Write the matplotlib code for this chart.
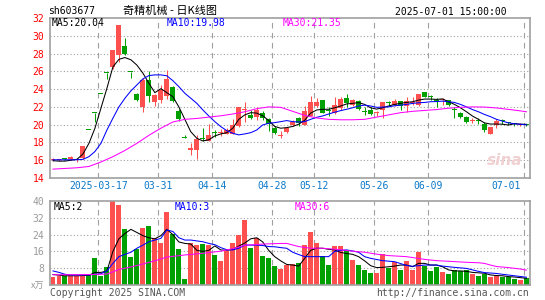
import matplotlib
matplotlib.use("Agg")
import matplotlib.pyplot as plt

plt.rcParams["font.family"] = ["DejaVu Sans Mono"]

W, H = 545, 300

TITLE_CODE = "sh603677"
TITLE_NAME = "奇精机械 - 日K线图"
TITLE_TIME = "2025-07-01 15:00:00"

# daily candles, 2025-03-05 .. 2025-07-01
OPEN = [16.05, 16.0, 16.2, 16.1, 16.0, 16.2, 19.36, 21.3, 23.43, 25.77,
        26.5, 27.8, 28.85, 25.9, 23.5, 22.0, 25.0, 22.6, 22.8, 23.2,
        24.2, 21.5, 18.6, 17.2, 17.1, 18.5, 18.2, 19.2, 19.1, 18.95,
        19.0, 19.8, 21.6, 21.1, 20.85, 21.3, 20.65, 19.6, 18.75, 19.2,
        20.0, 20.7, 20.0, 21.0, 22.15, 22.8, 21.6, 21.3, 21.85, 22.95,
        22.2, 22.7, 21.55, 21.65, 21.3, 21.65, 22.5, 22.2, 22.65, 22.1,
        22.45, 22.2, 23.65, 23.15, 22.72, 22.72, 22.75, 21.66, 21.35, 20.9,
        20.42, 20.47, 20.05, 19.0, 19.95, 20.5, 20.2, 20.15, 19.95, 20.05]
CLOSE = [16.15, 16.05, 16.15, 16.35, 16.1, 17.6, 19.36, 21.3, 23.43, 25.77,
         28.35, 31.19, 27.9, 25.9, 22.8, 25.0, 23.2, 23.35, 23.85, 25.1,
         22.7, 20.6, 18.54, 17.3, 18.35, 18.4, 18.85, 19.1, 19.2, 19.35,
         19.95, 21.95, 21.75, 20.7, 21.65, 20.8, 20.05, 19.1, 18.85, 19.65,
         20.35, 20.15, 21.5, 22.6, 22.6, 21.36, 21.55, 22.2, 22.85, 22.4,
         22.8, 21.8, 21.45, 21.2, 21.4, 22.55, 22.45, 22.65, 22.1, 22.65,
         22.5, 23.45, 23.15, 23.1, 22.68, 22.78, 22.2, 21.62, 20.9, 20.25,
         20.47, 20.42, 19.4, 19.7, 20.45, 20.45, 20.15, 20.05, 20.05, 20.0]
HIGH = [16.25, 16.15, 16.3, 16.5, 16.25, 17.65, 19.36, 21.3, 23.43, 25.77,
        28.35, 31.19, 29.8, 25.9, 23.6, 25.2, 26.0, 23.5, 24.5, 26.2,
        24.3, 21.8, 18.8, 17.9, 18.85, 19.6, 20.05, 19.4, 19.5, 19.6,
        20.6, 22.0, 22.5, 21.65, 22.0, 21.5, 20.7, 19.8, 19.3, 19.75,
        20.5, 20.85, 22.1, 23.2, 22.95, 22.8, 22.03, 23.15, 23.1, 23.45,
        22.9, 22.8, 22.0, 21.95, 21.55, 22.6, 22.7, 22.85, 22.7, 23.14,
        23.14, 23.5, 23.7, 23.3, 22.95, 22.95, 22.8, 22.0, 21.45, 21.0,
        20.7, 20.7, 20.3, 19.75, 20.6, 20.6, 20.3, 20.2, 20.15, 20.1]
LOW = [15.95, 15.9, 16.0, 16.05, 15.85, 16.1, 19.36, 20.3, 23.43, 25.1,
       26.3, 27.0, 27.8, 25.2, 22.7, 21.4, 22.6, 22.1, 22.4, 22.9,
       22.5, 20.4, 18.54, 16.6, 16.1, 18.2, 18.15, 18.6, 18.7, 18.9,
       18.9, 19.7, 20.35, 20.65, 20.5, 20.5, 19.25, 18.95, 18.45, 19.1,
       19.9, 19.8, 19.95, 20.95, 22.0, 21.3, 21.0, 21.2, 21.7, 22.0,
       22.1, 21.7, 21.1, 21.1, 20.95, 20.7, 22.1, 22.1, 21.7, 21.45,
       22.2, 22.1, 23.1, 22.75, 22.0, 22.2, 22.1, 20.8, 20.8, 20.14,
       20.14, 20.1, 19.2, 18.9, 19.6, 20.1, 19.95, 19.9, 19.85, 19.9]
VOLUME = [4.0, 4.3, 4.1, 4.1, 4.1, 4.1, 4.8, 13.0, 4.5, 8.7,
          40.5, 38.3, 26.8, 13.5, 17.0, 27.3, 28.2, 22.5, 20.2, 34.9,
          24.5, 17.3, 2.9, 19.8, 19.0, 19.5, 19.0, 14.3, 11.4, 16.3,
          20.0, 23.9, 31.0, 17.8, 22.6, 13.8, 12.9, 9.1, 7.5, 9.6,
          10.0, 10.5, 19.0, 25.2, 20.1, 13.6, 9.6, 18.6, 18.6, 16.6,
          11.9, 9.5, 7.1, 5.7, 5.7, 14.8, 8.1, 11.0, 7.1, 11.4,
          7.1, 15.7, 9.0, 6.7, 8.6, 6.2, 5.2, 7.1, 6.7, 7.1,
          5.2, 4.3, 5.2, 3.8, 4.3, 3.8, 3.8, 2.9, 2.4, 3.2]

# moving averages
MA5 = [15.95, 15.9, 15.9, 16.0, 16.1, 16.7, 17.9, 19.6, 21.85, 24.1,
       26.5, 27.35, 27.55, 27.3, 26.7, 25.8, 24.66, 23.6, 24.05, 23.6,
       23.15, 22.0, 20.6, 19.2, 18.47, 18.17, 18.3, 18.73, 18.96, 19.1,
       19.6, 20.6, 21.1, 21.35, 21.3, 21.0, 20.46, 19.8, 19.6, 19.67,
       19.8, 20.05, 20.5, 21.3, 21.65, 21.73, 21.73, 21.9, 22.1, 22.33,
       22.4, 22.48, 22.28, 21.9, 21.75, 21.9, 22.1, 22.28, 22.4, 22.5,
       22.58, 22.76, 22.88, 22.88, 22.84, 22.9, 22.58, 22.28, 21.9, 21.45,
       20.97, 20.6, 20.2, 20.07, 20.07, 20.05, 19.96, 20.1, 20.05, 20.04]
MA10 = [16.05, 16.05, 16.05, 16.05, 16.05, 16.1, 16.4, 16.98, 17.9, 19.4,
        20.73, 22.0, 22.97, 23.8, 24.47, 25.15, 25.52, 25.6, 25.6, 25.5,
        24.95, 24.28, 23.53, 22.97, 22.4, 21.66, 20.98, 20.34, 19.78, 19.33,
        19.03, 18.85, 18.96, 19.1, 19.4, 19.97, 20.16, 20.23, 20.34, 20.46,
        20.34, 20.3, 20.34, 20.6, 20.83, 20.98, 21.2, 21.4, 21.58, 21.73,
        21.9, 22.1, 22.2, 22.1, 21.95, 21.98, 22.0, 22.13, 22.2, 22.28,
        22.39, 22.46, 22.5, 22.58, 22.6, 22.65, 22.58, 22.5, 22.28, 22.0,
        21.7, 21.45, 21.15, 20.9, 20.6, 20.4, 20.2, 20.1, 20.05, 19.98]
MA30_X = [0, 4, 6, 8, 10, 12, 14, 16, 18, 20, 22, 24, 26, 28, 30, 32, 34, 36,
          38, 40, 42, 44, 46, 48, 50, 52, 54, 56, 58, 60, 62, 64, 66, 68, 70,
          72, 74, 76, 78, 79]
MA30 = [15.0, 15.15, 15.3, 15.8, 16.4, 17.1, 17.9, 18.8, 19.6, 20.3, 20.6,
        20.7, 20.85, 21.0, 21.2, 21.45, 21.8, 22.0, 21.95, 21.5, 21.05, 20.75,
        20.6, 20.55, 20.55, 20.6, 20.85, 21.1, 21.35, 21.5, 21.6, 21.7, 21.85,
        21.95, 22.0, 21.98, 21.88, 21.72, 21.55, 21.45]

VMA5_X = [0, 2, 4, 6, 7, 8, 9, 10, 11, 12, 13, 14, 15, 16, 17, 18, 19, 20,
          21, 22, 23, 24, 25, 26, 27, 28, 29, 30, 31, 32, 33, 34, 35, 36, 37,
          38, 39, 40, 41, 42, 43, 44, 45, 46, 47, 48, 49, 50, 51, 52, 53, 54,
          55, 56, 57, 58, 59, 60, 61, 62, 63, 64, 65, 66, 67, 68, 69, 70, 71,
          72, 73, 74, 75, 76, 77, 78, 79]
VMA5 = [5.0, 4.4, 4.4, 4.6, 6.0, 6.0, 6.6, 16.0, 22.0, 24.5, 26.5, 25.0, 23.5,
        22.5, 22.0, 23.5, 26.5, 24.0, 20.5, 19.8, 19.5, 16.5, 16.0, 16.5, 18.6,
        16.7, 16.5, 17.0, 18.5, 20.0, 22.0, 22.5, 20.5, 16.5, 13.5, 11.5, 9.8,
        9.5, 9.0, 12.7, 16.5, 17.5, 17.5, 17.0, 16.7, 15.5, 15.0, 14.6, 13.5,
        11.5, 9.2, 8.3, 8.4, 8.7, 9.0, 9.5, 9.5, 8.7, 10.3, 10.3, 9.5, 9.5, 8.7,
        7.2, 6.7, 6.7, 6.5, 6.0, 5.8, 5.6, 4.8, 4.5, 4.4, 4.0, 3.8, 3.5, 3.2]
VMA10_X = [0, 1, 2, 3, 6, 7, 8, 9, 10, 11, 12, 13, 14, 15, 16, 17, 18, 19, 20,
           21, 22, 23, 24, 25, 26, 27, 28, 29, 30, 31, 32, 33, 34, 35, 36, 37,
           38, 39, 40, 41, 42, 44, 46, 47, 48, 49, 50, 51, 52, 53, 55, 57, 59,
           60, 62, 64, 65, 67, 69, 70, 71, 72, 74, 75, 77, 79]
VMA10 = [6.7, 6.0, 5.1, 4.8, 4.8, 5.1, 5.4, 6.7, 10.3, 13.5, 14.6, 15.6, 17.5,
         19.0, 20.6, 21.4, 22.2, 26.2, 25.5, 22.5, 21.4, 21.4, 21.0, 20.6, 19.8,
         19.2, 17.8, 16.8, 16.7, 17.5, 19.0, 19.0, 19.0, 18.8, 18.3, 18.2, 17.8,
         17.5, 15.6, 14.5, 13.5, 13.5, 13.5, 16.0, 16.5, 16.7, 16.2, 15.6, 13.5,
         12.7, 11.6, 11.1, 9.3, 8.9, 9.5, 9.5, 9.0, 8.4, 7.9, 7.2, 6.5, 5.9, 5.5,
         5.1, 4.4, 3.7]
VMA30_X = [0, 5, 9, 10, 11, 13, 15, 17, 19, 22, 25, 28, 30, 32, 35, 38, 39, 41,
           43, 45, 48, 50, 52, 54, 56, 59, 62, 64, 66, 69, 71, 72, 73, 74, 76,
           78, 79]
VMA30 = [4.9, 4.9, 5.2, 6.3, 7.4, 8.6, 10.0, 11.5, 13.3, 14.3, 15.1, 16.1, 17.3,
         18.9, 19.5, 19.8, 19.8, 18.3, 17.5, 17.5, 16.8, 16.1, 15.6, 14.7, 14.0,
         13.5, 12.2, 11.6, 11.3, 10.8, 10.6, 10.3, 9.5, 8.8, 8.3, 7.6, 7.1]

DATE_IDX = [8, 18, 27, 37, 44, 54, 63, 79]
DATE_LABELS = ["2025-03-17", "03-31", "04-14", "04-28", "05-12", "05-26",
               "06-09", "07-01"]
PRICE_TICKS = [32, 30, 28, 26, 24, 22, 20, 18, 16, 14]
VOL_TICKS = [40, 32, 24, 16, 8]

RED = "#ff5050"
GREEN = "#00a000"
GRID = "#a0a0a0"
FRAME = "#a0a0a0"
LW = 0.75
MONO = ["DejaVu Sans Mono"]
CJK = ["Noto Sans CJK SC", "DejaVu Sans"]


def fig_xy(x, y):
    return x / W, 1 - y / H


def axes_rect(x0, y0, x1, y1):
    return [x0 / W, 1 - y1 / H, (x1 - x0) / W, (y1 - y0) / H]


def style_panel(ax, hlines):
    ax.set_xlim(-0.5, 79.6)
    for s in ax.spines.values():
        s.set_color(FRAME)
        s.set_linewidth(1.2)
    for y in hlines:
        ax.axhline(y, color=GRID, lw=0.8, ls=(0, (1, 2)), zorder=0)
    for i in DATE_IDX:
        ax.axvline(i - 0.42, color=GRID, lw=0.8, ls=(0, (5, 4)), zorder=0)
    ax.set_xticks([])
    ax.tick_params(axis="y", length=0, pad=4, labelsize=7)


fig = plt.figure(figsize=(W / 100, H / 100), dpi=100)

# price panel
ax = fig.add_axes(axes_rect(50, 18, 530, 178))
ax.set_ylim(14, 32)
style_panel(ax, [30, 28, 26, 24, 22, 20, 18, 16])
ax.set_yticks(PRICE_TICKS)
ax.set_yticklabels([str(t) for t in PRICE_TICKS], color="red")

xs = list(range(len(OPEN)))
for i in xs:
    o, c, hi, lo = OPEN[i], CLOSE[i], HIGH[i], LOW[i]
    col = RED if c > o else GREEN
    ax.vlines(i, lo, hi, color=col, lw=LW, zorder=2)
    ax.bar(i, max(abs(c - o), 0.12), bottom=min(o, c), width=0.83,
           color=col, linewidth=0, zorder=3)

ax.plot(xs, MA5, color="black", lw=LW, zorder=4)
ax.plot(xs, MA10, color="#0000ff", lw=LW, zorder=4)
ax.plot(MA30_X, MA30, color="#ff00ff", lw=LW, zorder=4)

ax.text(0.985, 0.06, "sina", transform=ax.transAxes, ha="right", va="bottom",
        fontsize=11, fontstyle="italic", fontweight="bold",
        color="#f0d0d0", family=["DejaVu Sans"], zorder=1)

for i, lab in zip(DATE_IDX, DATE_LABELS):
    last = i == DATE_IDX[-1]
    ax.annotate(lab, (i - 0.42, 0), xycoords=("data", "axes fraction"),
                xytext=(-2 if last else 0, -6), textcoords="offset points",
                ha="right" if last else "center", va="center", fontsize=7,
                color="#0a78c8")

# volume panel
vax = fig.add_axes(axes_rect(50, 201, 530, 285))
vax.set_ylim(0, 40)
style_panel(vax, [32, 24, 16, 8])
vax.set_yticks(VOL_TICKS)
vax.set_yticklabels([str(t) for t in VOL_TICKS], color="#999999")
vcols = [RED if CLOSE[i] > OPEN[i] else GREEN for i in xs]
vax.bar(xs, VOLUME, width=0.83, color=vcols, linewidth=0, zorder=2)
vax.plot(VMA5_X, VMA5, color="black", lw=LW, zorder=4)
vax.plot(VMA10_X, VMA10, color="#0000ff", lw=LW, zorder=4)
vax.plot(VMA30_X, VMA30, color="#ff00ff", lw=LW, zorder=4)

# header and legends
fig.text(*fig_xy(48, 11), TITLE_CODE, ha="left", va="center", fontsize=7,
         family=MONO)
fig.text(*fig_xy(170, 11), TITLE_NAME, ha="center", va="center", fontsize=8,
         family=CJK)
fig.text(*fig_xy(507, 12), TITLE_TIME, ha="right", va="center", fontsize=7,
         family=MONO)

fig.text(*fig_xy(52, 23), "MA5:20.04", ha="left", va="center", fontsize=7,
         color="black", family=MONO, zorder=5)
fig.text(*fig_xy(167, 23), "MA10:19.98", ha="left", va="center", fontsize=7,
         color="#0000ff", family=MONO, zorder=5)
fig.text(*fig_xy(283, 23), "MA30:21.35", ha="left", va="center", fontsize=7,
         color="#ff00ff", family=MONO, zorder=5)

fig.text(*fig_xy(54, 207), "MA5:2", ha="left", va="center", fontsize=7,
         color="black", family=MONO, zorder=5)
fig.text(*fig_xy(175, 207), "MA10:3", ha="left", va="center", fontsize=7,
         color="#0000ff", family=MONO, zorder=5)
fig.text(*fig_xy(295, 207), "MA30:6", ha="left", va="center", fontsize=7,
         color="#ff00ff", family=MONO, zorder=5)

fig.text(*fig_xy(44, 286), "x万", ha="right", va="center", fontsize=6.5,
         color="#999999", family=CJK)
fig.text(*fig_xy(50, 293), "Copyright 2025 SINA.COM", ha="left", va="center",
         fontsize=7, color="#555555", family=MONO)
fig.text(*fig_xy(529, 293), "http://finance.sina.com.cn", ha="right",
         va="center", fontsize=7, color="#555555", family=MONO)

fig.savefig("out.png", dpi=100)
